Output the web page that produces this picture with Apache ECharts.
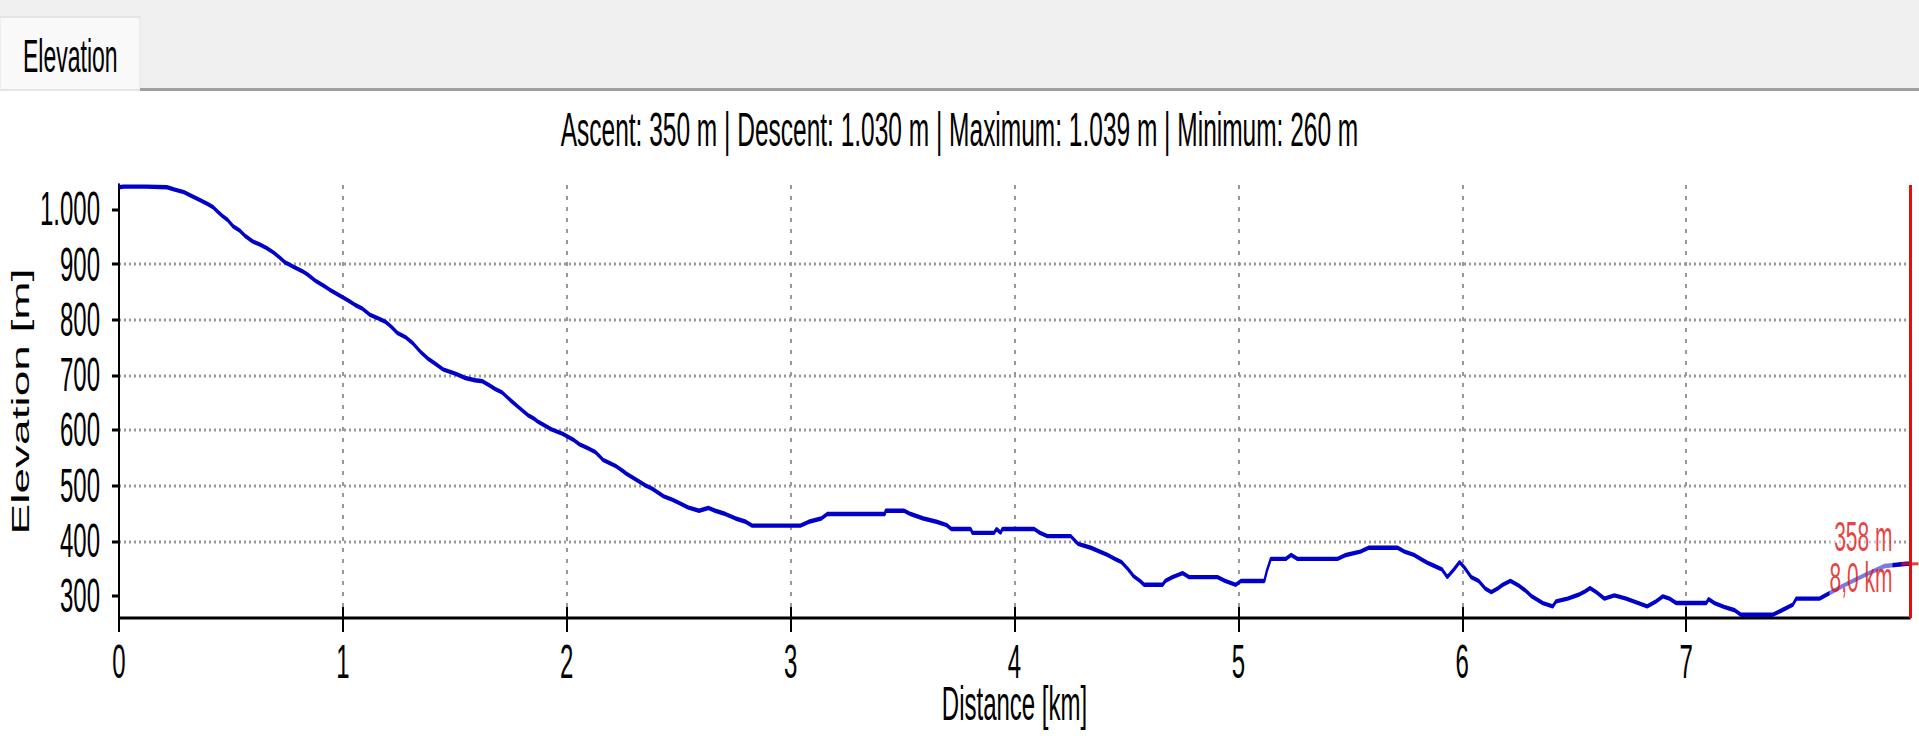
<!DOCTYPE html>
<html>
<head>
<meta charset="utf-8">
<title>Elevation</title>
<script src="https://cdn.jsdelivr.net/npm/echarts@6/dist/echarts.min.js"></script>
<style>
html, body { margin: 0; padding: 0; background: #ffffff; overflow: hidden; width: 1919px; height: 736px; }
#chart { width: 1919px; height: 368px; transform: scaleY(2); transform-origin: 0 0; }
</style>
</head>
<body>
<div id="chart"></div>
<script>
// ---- data ----
const distanceKm = [
  0.000, 0.020, 0.120, 0.215, 0.245, 0.290, 0.330, 0.360, 0.395, 0.420,
  0.440, 0.462, 0.485, 0.510, 0.538, 0.563, 0.597, 0.630, 0.660, 0.690,
  0.720, 0.742, 0.780, 0.820, 0.843, 0.880, 0.917, 0.940, 0.990, 1.025,
  1.055, 1.085, 1.122, 1.163, 1.193, 1.215, 1.245, 1.279, 1.312, 1.350,
  1.383, 1.409, 1.450, 1.502, 1.547, 1.590, 1.624, 1.653, 1.681, 1.711,
  1.748, 1.785, 1.826, 1.852, 1.875, 1.932, 1.982, 2.034, 2.057, 2.094,
  2.128, 2.143, 2.162, 2.192, 2.222, 2.247, 2.266, 2.295, 2.326, 2.351,
  2.381, 2.433, 2.471, 2.508, 2.541, 2.591, 2.632, 2.663, 2.709, 2.754,
  2.800, 2.828, 3.044, 3.081, 3.137, 3.164, 3.421, 3.424, 3.506, 3.536,
  3.593, 3.652, 3.697, 3.718, 3.804, 3.812, 3.909, 3.920, 3.938, 3.946,
  4.088, 4.114, 4.147, 4.251, 4.284, 4.341, 4.415, 4.448, 4.478, 4.508,
  4.531, 4.561, 4.579, 4.661, 4.674, 4.706, 4.751, 4.780, 4.907, 4.940,
  4.989, 5.011, 5.116, 5.127, 5.145, 5.212, 5.235, 5.264, 5.443, 5.481,
  5.545, 5.581, 5.712, 5.742, 5.784, 5.814, 5.843, 5.876, 5.909, 5.933,
  5.963, 5.988, 6.010, 6.040, 6.073, 6.103, 6.130, 6.157, 6.180, 6.215,
  6.251, 6.281, 6.311, 6.360, 6.404, 6.419, 6.471, 6.519, 6.549, 6.571,
  6.598, 6.635, 6.680, 6.732, 6.787, 6.826, 6.862, 6.896, 6.926, 6.956,
  7.090, 7.100, 7.127, 7.169, 7.217, 7.244, 7.388, 7.428, 7.477, 7.492,
  7.596, 7.622, 7.709, 7.800, 7.887, 7.984, 8.000
];
const elevationM = [
  1039, 1040, 1040, 1039, 1035, 1030, 1022, 1016, 1009, 1003,
  995, 987, 980, 968, 961, 951, 941, 935, 929, 921,
  911, 903, 895, 887, 881, 869, 860, 854, 842, 834,
  826, 820, 808, 801, 795, 787, 775, 768, 757, 740,
  728, 721, 709, 702, 694, 690, 688, 681, 674, 668,
  654, 641, 627, 621, 614, 601, 593, 581, 574, 567,
  560, 554, 546, 540, 534, 527, 521, 514, 506, 500,
  494, 480, 474, 467, 460, 454, 459, 454, 448, 440,
  434, 427, 427, 434, 440, 448, 448, 454, 454, 448,
  440, 434, 428, 421, 421, 414, 414, 421, 414, 421,
  421, 414, 408, 408, 394, 387, 374, 367, 361, 348,
  336, 327, 320, 320, 327, 334, 341, 334, 334, 327,
  320, 327, 327, 345, 367, 367, 374, 367, 367, 374,
  380, 387, 387, 380, 374, 367, 360, 354, 348, 334,
  348, 361, 351, 334, 327, 313, 307, 313, 320, 327,
  319, 310, 299, 287, 281, 290, 295, 302, 308, 314,
  307, 295, 301, 295, 287, 281, 289, 299, 295, 287,
  287, 294, 287, 280, 274, 266, 266, 274, 284, 295,
  295, 301, 320, 338, 354, 358, 358
];
const xTicks = [0, 1, 2, 3, 4, 5, 6, 7];
const yTicks = [300, 400, 500, 600, 700, 800, 900, 1000];
const xMin = 0, xMax = 8;
const yMin = 260, yMax = 1043;
const ascentM = 350, descentM = 1030, maximumM = 1039, minimumM = 260;
const cursorKm = 8.0, cursorElev = 358;
const tabLabel = 'Elevation';
const xName = 'Distance [km]';
const yName = 'Elevation [m]';

// ---- helpers ----
const FONT = '"Liberation Sans", Arial, sans-serif';
const RED = '#e01010';
const BLUE = '#0000c8';
function thousands(v) { return String(v).replace(/\B(?=(\d{3})+(?!\d))/g, '.'); }
const titleText = 'Ascent: ' + thousands(ascentM) + ' m | Descent: ' + thousands(descentM) +
  ' m | Maximum: ' + thousands(maximumM) + ' m | Minimum: ' + thousands(minimumM) + ' m';

const lineData = distanceKm.map((d, i) => [d, elevationM[i]]);

const chart = echarts.init(document.getElementById('chart'), null, { renderer: 'svg' });
chart.setOption({
  animation: false,
  backgroundColor: '#ffffff',
  title: {
    text: titleText,
    left: 'center',
    top: 52,
    padding: 0,
    textStyle: { fontFamily: FONT, fontSize: 24.5, fontWeight: 'normal', color: '#000' }
  },
  graphic: [
    { type: 'rect', z: -10, shape: { x: 0, y: 0, width: 1919, height: 45 }, style: { fill: '#f0f0f0' } },
    { type: 'rect', z: -9, shape: { x: 0, y: 8.5, width: 140, height: 36.5 }, style: { fill: '#f9f9f9', stroke: '#e4e4e4', lineWidth: 1 } },
    { type: 'rect', z: -9, shape: { x: 140, y: 44, width: 1779, height: 1.5 }, style: { fill: '#a0a0a0' } },
    { type: 'text', z: -8, x: 23, y: 28, style: { text: tabLabel, fill: '#000', font: '23px ' + FONT, textVerticalAlign: 'middle' } }
  ],
  grid: { left: 119, right: 9, top: 92.5, bottom: 59, containLabel: false, outerBoundsMode: 'none' },
  xAxis: [
    {
      type: 'value', min: xMin, max: xMax, interval: 1,
      name: xName, nameLocation: 'middle', nameGap: 32, nameMoveOverlap: false,
      nameTextStyle: { fontFamily: FONT, fontSize: 24, lineHeight: 22, color: '#000' },
      axisLine: { show: true, onZero: false, lineStyle: { color: '#000', width: 1.5 } },
      axisTick: { show: true, length: 7, lineStyle: { color: '#000', width: 2 } },
      axisLabel: { show: true, fontFamily: FONT, fontSize: 24, lineHeight: 20, color: '#000', margin: 12,
        showMaxLabel: false, formatter: v => xTicks.indexOf(v) >= 0 ? String(v) : '' },
      splitLine: { show: true, showMinLine: false, showMaxLine: false,
        lineStyle: { color: '#999999', width: 2, type: [2, 3.5] } }
    },
    {
      type: 'value', min: xMin, max: xMax, interval: 1, position: 'bottom',
      axisLine: { show: false, onZero: false },
      axisTick: { show: true, inside: true, length: 5.5, lineStyle: { color: '#000', width: 2 } },
      axisLabel: { show: false },
      splitLine: { show: false }
    }
  ],
  yAxis: {
    type: 'value', min: yMin, max: yMax, splitNumber: 8,
    name: yName, nameLocation: 'middle', nameGap: 86, nameMoveOverlap: false,
    nameTextStyle: { fontFamily: FONT, fontSize: 23, color: '#000' },
    axisLine: { show: true, lineStyle: { color: '#000', width: 2 } },
    axisTick: { show: true, length: 7, customValues: yTicks, lineStyle: { color: '#000', width: 1.5 } },
    axisLabel: { show: true, inside: false, align: 'right', fontFamily: FONT, fontSize: 24, color: '#000', margin: 10,
      showMinLabel: false, showMaxLabel: false,
      formatter: v => (yTicks.indexOf(v) >= 0 ? '{v|' + thousands(v) + '}' : ''),
      rich: { v: { fontFamily: FONT, fontSize: 24, color: '#000', padding: [0, 9, 0, 0] } } },
    splitLine: { show: true, showMinLine: false, showMaxLine: false,
      lineStyle: { color: '#999999', width: 1.5, type: [2, 3] } }
  },
  series: [
    {
      name: 'Elevation', type: 'line', data: lineData, xAxisIndex: 0,
      showSymbol: false, symbol: 'none', z: 3,
      lineStyle: { color: BLUE, width: 2.2 }, itemStyle: { color: BLUE }
    },
    {
      name: 'Cursor', type: 'scatter', xAxisIndex: 0, z: 6, clip: false,
      data: [[cursorKm, cursorElev]],
      symbol: 'rect', symbolSize: [17, 1.5],
      itemStyle: { color: RED },
      label: {
        show: true, position: 'left', distance: 9, offset: [0, -3.5],
        formatter: () => cursorElev + ' m\n' + cursorKm.toFixed(1).replace('.', ',') + ' km',
        fontFamily: FONT, fontSize: 21, lineHeight: 20.5, color: RED,
        backgroundColor: 'rgba(255,255,255,0.6)'
      },
      markLine: {
        silent: true, symbol: 'none', label: { show: false },
        lineStyle: { color: RED, width: 3, type: 'solid' },
        data: [{ xAxis: cursorKm }]
      }
    }
  ]
});
</script>
</body>
</html>
